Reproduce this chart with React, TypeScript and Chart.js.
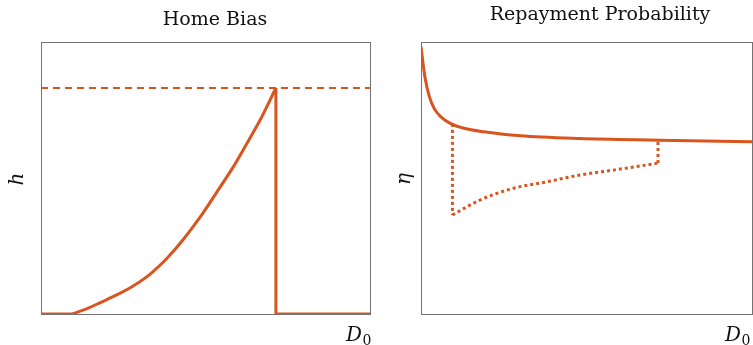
import React, { useEffect, useRef } from "react";
import { Chart, registerables } from "chart.js";

Chart.register(...registerables);

// ---------- Home Bias (left panel) ----------
const homeFlatX = [0, 9.5];
const homeFlatY = [0, 0];
const homeCurveX = [9.5, 14, 18, 23, 28, 33, 38.3, 43, 48.3, 53, 58.4, 62, 66.6, 71.4];
const homeCurveY = [0, 0.02, 0.042, 0.07, 0.103, 0.145, 0.205, 0.27, 0.355, 0.44, 0.54, 0.615, 0.713, 0.831];
const homeDropX = [71.4, 71.4, 100];
const homeDropY = [0.831, 0, 0];
const homeCapX = [0, 100];
const homeCapY = [0.831, 0.831];

// ---------- Repayment Probability (right panel) ----------
const etaX = [0, 1.2, 2.5, 4, 6, 9, 13, 19, 30, 48, 72, 100];
const etaY = [0.983, 0.87, 0.8, 0.755, 0.725, 0.7, 0.683, 0.67, 0.655, 0.645, 0.639, 0.633];
const etaDipX = [9.5, 17.8, 27.9, 38, 48, 58.1, 68.2, 71.6];
const etaDipY = [0.364, 0.419, 0.462, 0.486, 0.511, 0.529, 0.548, 0.555];
const etaJumpDownX = [9.5, 9.5];
const etaJumpDownY = [0.699, 0.364];
const etaJumpUpX = [71.6, 71.6];
const etaJumpUpY = [0.555, 0.639];

const titles = ["Home Bias", "Repayment Probability"];
const yLabels = ["h", "η"];
const xLabel = "D";
const xLabelSub = "0";

const ORANGE = "#D9541E";
const SERIF = "'DejaVu Serif', 'Liberation Serif', serif";

const pts = (xs: number[], ys: number[]) => xs.map((x, i) => ({ x, y: ys[i] }));

type TextSpec = {
  title: string;
  titleX: number;
  titleY: number;
  yLabel: string;
  yLabelX: number;
  yLabelY: number;
  xLabelX: number;
  xLabelY: number;
};

const framePlugin = {
  id: "frame",
  beforeDatasetsDraw(chart: any) {
    const { ctx, chartArea } = chart;
    ctx.save();
    ctx.strokeStyle = "rgba(0,0,0,0.55)";
    ctx.lineWidth = 1;
    ctx.strokeRect(
      Math.round(chartArea.left) + 0.5,
      Math.round(chartArea.top) + 0.5,
      Math.round(chartArea.right - chartArea.left),
      Math.round(chartArea.bottom - chartArea.top)
    );
    ctx.restore();
  },
};

const makeTextPlugin = (spec: TextSpec) => ({
  id: "texts",
  afterDraw(chart: any) {
    const { ctx } = chart;
    ctx.save();
    ctx.fillStyle = "#111";
    ctx.font = `19px ${SERIF}`;
    ctx.textAlign = "center";
    ctx.textBaseline = "alphabetic";
    ctx.fillText(spec.title, spec.titleX, spec.titleY);
    ctx.save();
    ctx.translate(spec.yLabelX, spec.yLabelY);
    ctx.rotate(-Math.PI / 2);
    ctx.font = `italic 20px ${SERIF}`;
    ctx.textAlign = "center";
    ctx.fillText(spec.yLabel, 0, 0);
    ctx.restore();
    ctx.textAlign = "left";
    ctx.font = `italic 20px ${SERIF}`;
    ctx.fillText(xLabel, spec.xLabelX, spec.xLabelY);
    const w = ctx.measureText(xLabel).width;
    ctx.font = `14px ${SERIF}`;
    ctx.fillText(xLabelSub, spec.xLabelX + w + 0.5, spec.xLabelY + 4);
    ctx.restore();
  },
});

function baseOptions(padding: any) {
  return {
    responsive: false,
    animation: false as const,
    events: [] as any[],
    layout: { padding },
    plugins: { legend: { display: false }, tooltip: { enabled: false }, title: { display: false } },
    scales: {
      x: { type: "linear" as const, min: 0, max: 100, display: false },
      y: { type: "linear" as const, min: 0, max: 1, display: false },
    },
    elements: { point: { radius: 0 } },
  };
}

function HomeBiasChart() {
  const ref = useRef<HTMLCanvasElement>(null);
  useEffect(() => {
    if (!ref.current) return;
    const chart = new Chart(ref.current, {
      type: "line",
      data: {
        datasets: [
          { data: pts(homeCapX, homeCapY), borderColor: ORANGE, borderWidth: 2, borderDash: [7, 5], tension: 0 },
          { data: pts(homeFlatX, homeFlatY), borderColor: ORANGE, borderWidth: 3, tension: 0 },
          { data: pts(homeCurveX, homeCurveY), borderColor: ORANGE, borderWidth: 3, tension: 0.3 },
          { data: pts(homeDropX, homeDropY), borderColor: ORANGE, borderWidth: 3, tension: 0, borderJoinStyle: "miter" },
        ] as any,
      },
      options: baseOptions({ left: 41, top: 42, right: 15, bottom: 31 }) as any,
      plugins: [
        framePlugin,
        makeTextPlugin({
          title: titles[0],
          titleX: 215,
          titleY: 25,
          yLabel: yLabels[0],
          yLabelX: 23,
          yLabelY: 179,
          xLabelX: 346,
          xLabelY: 341,
        }),
      ],
    });
    return () => chart.destroy();
  }, []);
  return <canvas ref={ref} width={385} height={345} style={{ position: "absolute", left: 0, top: 0 }} />;
}

function RepaymentChart() {
  const ref = useRef<HTMLCanvasElement>(null);
  useEffect(() => {
    if (!ref.current) return;
    const chart = new Chart(ref.current, {
      type: "line",
      data: {
        datasets: [
          { data: pts(etaJumpDownX, etaJumpDownY), borderColor: ORANGE, borderWidth: 3, borderDash: [3, 3], tension: 0 },
          { data: pts(etaDipX, etaDipY), borderColor: ORANGE, borderWidth: 3, borderDash: [3, 3], cubicInterpolationMode: "monotone" },
          { data: pts(etaJumpUpX, etaJumpUpY), borderColor: ORANGE, borderWidth: 3, borderDash: [3, 3], tension: 0 },
          { data: pts(etaX, etaY), borderColor: ORANGE, borderWidth: 3, cubicInterpolationMode: "monotone" },
        ] as any,
      },
      options: baseOptions({ left: 36, top: 42, right: 1, bottom: 31 }) as any,
      plugins: [
        framePlugin,
        makeTextPlugin({
          title: titles[1],
          titleX: 215,
          titleY: 20,
          yLabel: yLabels[1],
          yLabelX: 25,
          yLabelY: 179,
          xLabelX: 340,
          xLabelY: 341,
        }),
      ],
    });
    return () => chart.destroy();
  }, []);
  return <canvas ref={ref} width={368} height={345} style={{ position: "absolute", left: 385, top: 0 }} />;
}

export default function App() {
  return (
    <div style={{ position: "absolute", left: 0, top: 0, width: 753, height: 345, background: "#fff", overflow: "hidden" }}>
      <HomeBiasChart />
      <RepaymentChart />
    </div>
  );
}
